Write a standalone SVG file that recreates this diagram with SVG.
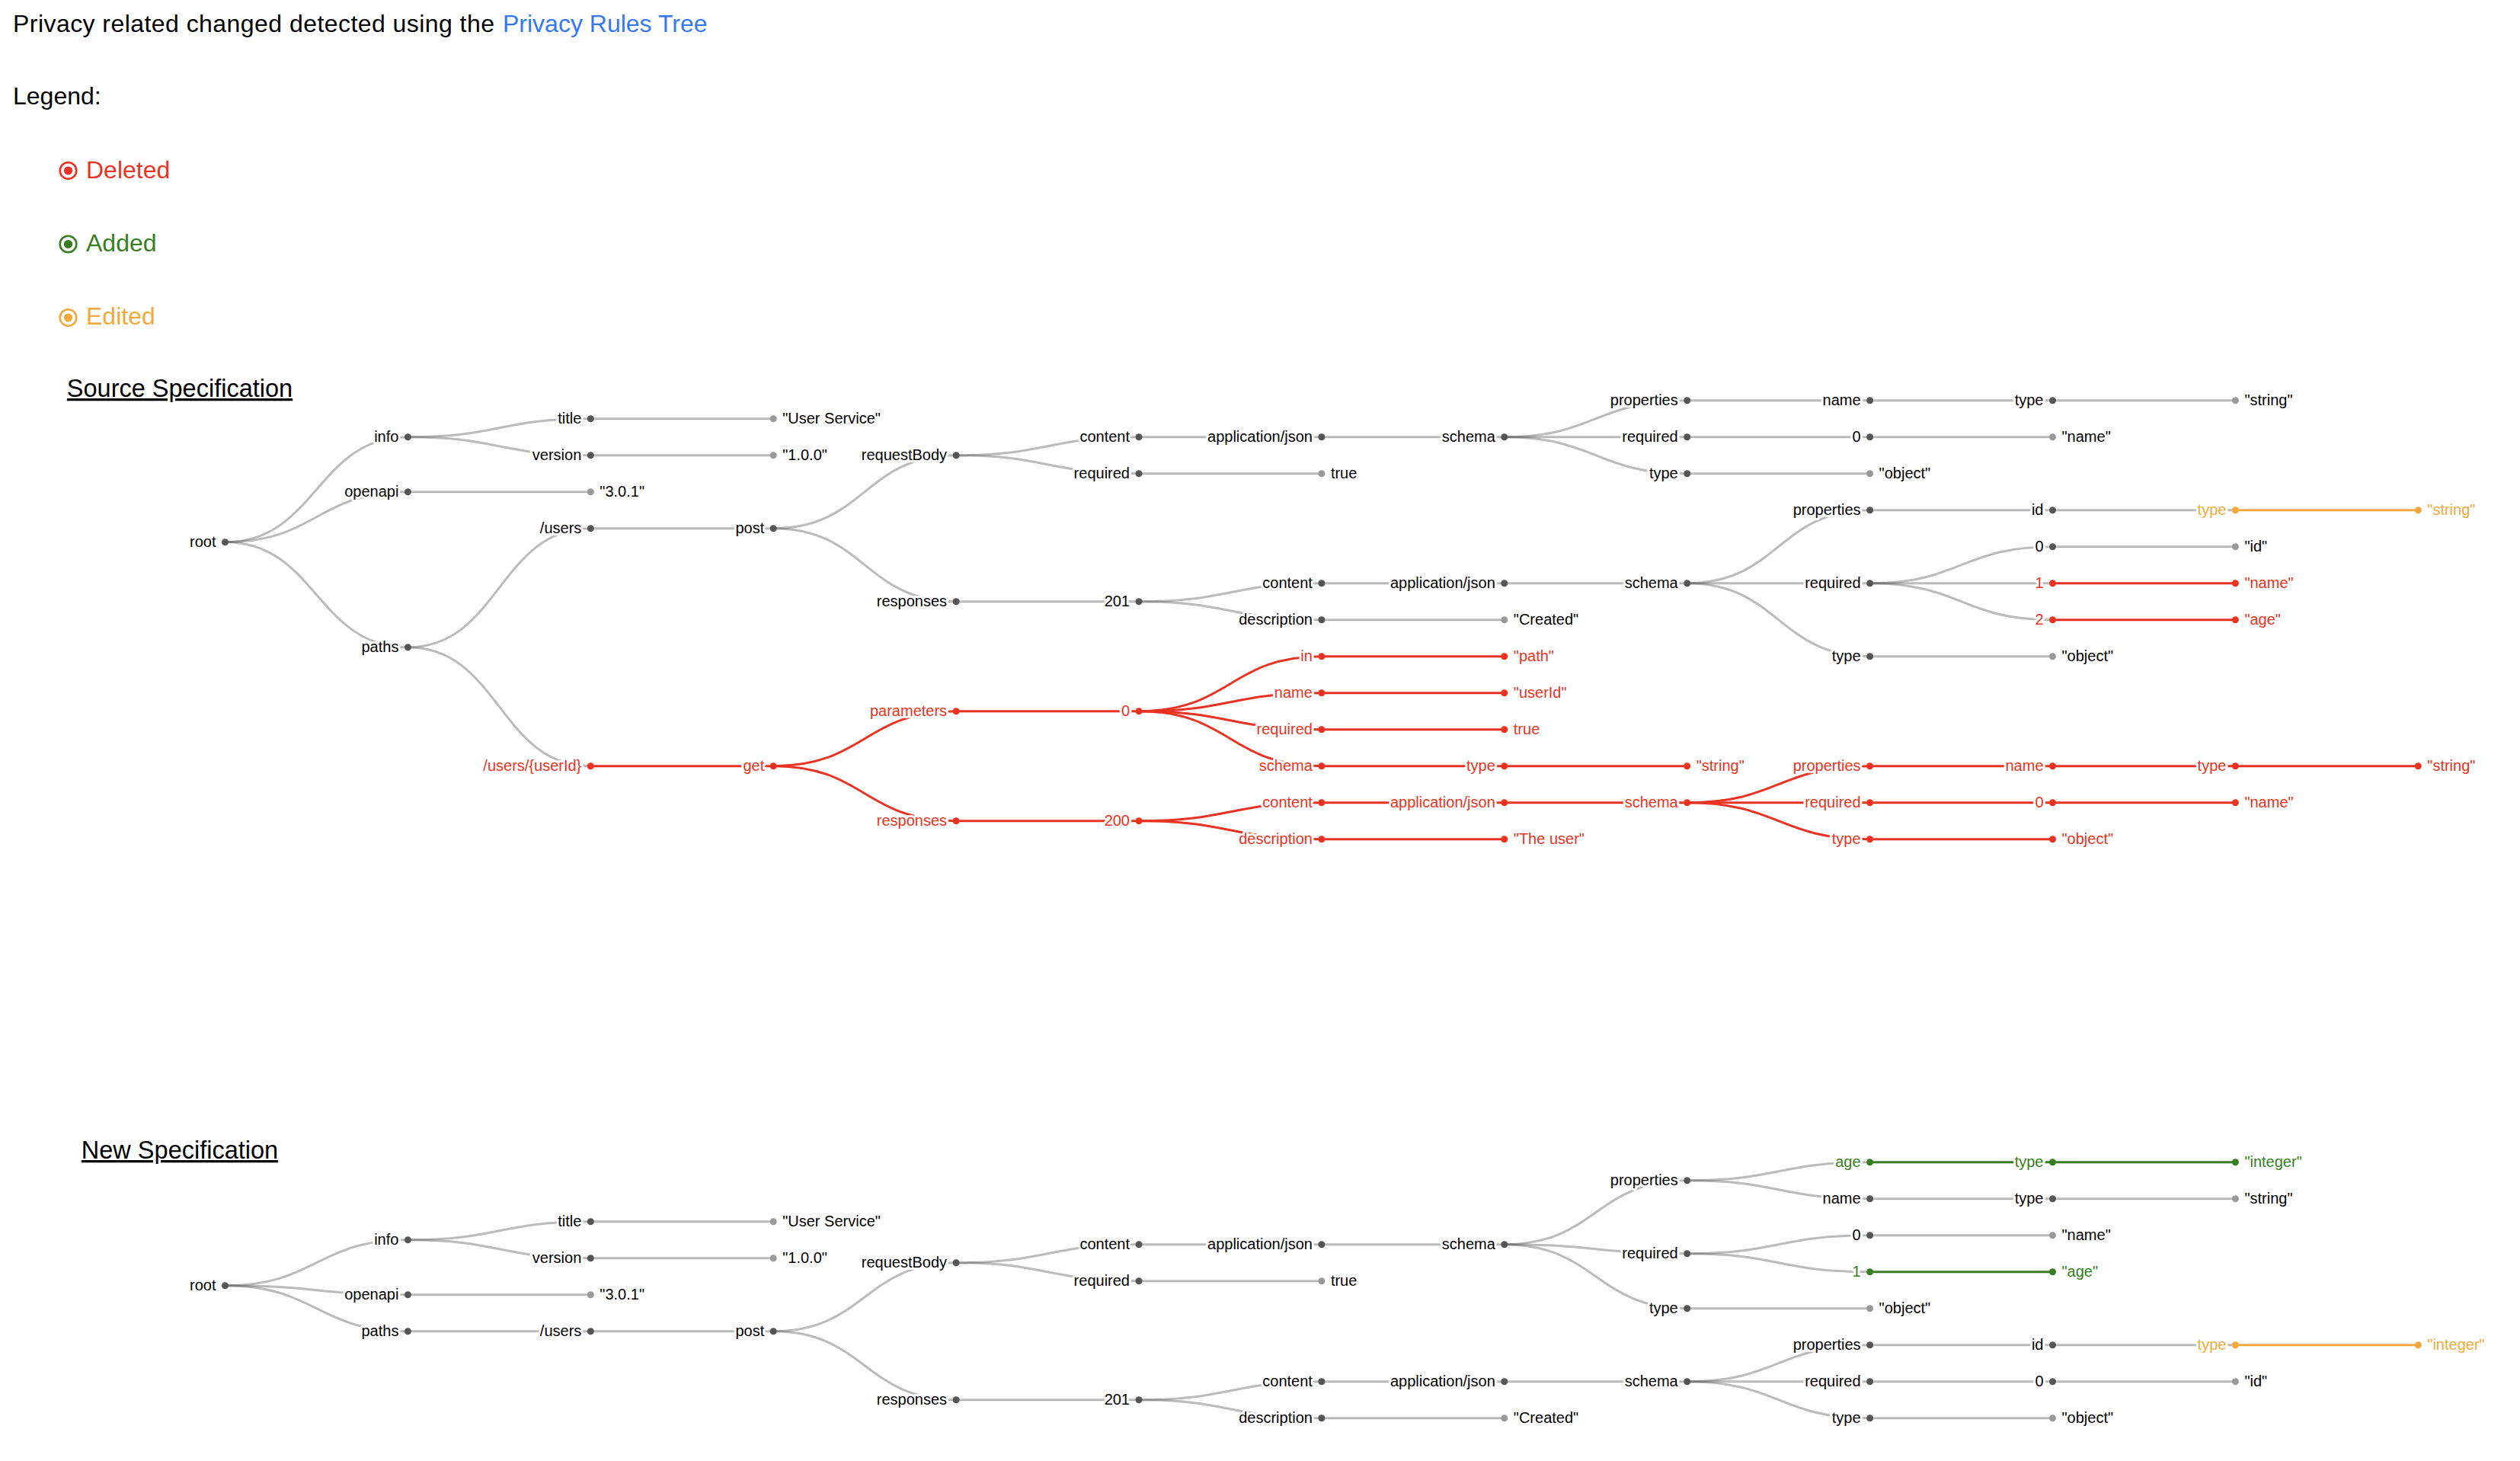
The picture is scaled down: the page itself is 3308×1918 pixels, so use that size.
<svg xmlns="http://www.w3.org/2000/svg" width="3308" height="1918" viewBox="0 0 3308 1918">
<style>
.hd{font-family:"Liberation Sans",Arial,sans-serif;font-size:32px;fill:#000}
.ttl{font-family:"Liberation Sans",Arial,sans-serif;font-size:32.5px;fill:#000;text-anchor:middle;text-decoration:underline}
.lk{fill:none;stroke:#555;stroke-opacity:0.4;stroke-width:3}
.lk.r{stroke:#ea3323;stroke-opacity:1}
.lk.g{stroke:#377d22;stroke-opacity:1}
.lk.o{stroke:#f2a93b;stroke-opacity:1}
.n circle{fill:#555}
.n.l circle{fill:#999}
.n text{font-family:"Liberation Sans",Arial,sans-serif;font-size:20px;fill:#000;stroke:#fff;stroke-width:6;stroke-linejoin:round;paint-order:stroke;text-anchor:end}
.n.l text{text-anchor:start}
.n.r circle{fill:#ea3323}
.n.r text{fill:#ea3323}
.n.g circle{fill:#377d22}
.n.g text{fill:#377d22}
.n.o circle{fill:#f2a93b}
.n.o text{fill:#f2a93b}
</style>

<g id="header">
<text class="hd" x="17" y="42" font-size="33" textLength="632" lengthAdjust="spacing">Privacy related changed detected using the</text>
<text class="hd" x="660" y="42" font-size="33" style="fill:#3478f6">Privacy Rules Tree</text>
<text class="hd" x="17" y="137">Legend:</text>
</g>

<g id="legend">
<g id="legend-deleted">
<circle cx="89.5" cy="224" r="10.8" fill="none" stroke="#ea3323" stroke-width="2.6"/>
<circle cx="89.5" cy="224" r="5.6" fill="#ea3323"/>
<text class="hd" x="113" y="234" style="fill:#ea3323">Deleted</text>
</g>
<g id="legend-added">
<circle cx="89.5" cy="320.5" r="10.8" fill="none" stroke="#377d22" stroke-width="2.6"/>
<circle cx="89.5" cy="320.5" r="5.6" fill="#377d22"/>
<text class="hd" x="113" y="330" style="fill:#377d22">Added</text>
</g>
<g id="legend-edited">
<circle cx="89.5" cy="417" r="10.8" fill="none" stroke="#f2a93b" stroke-width="2.6"/>
<circle cx="89.5" cy="417" r="5.6" fill="#f2a93b"/>
<text class="hd" x="113" y="426" style="fill:#f2a93b">Edited</text>
</g>
</g>

<text id="source-title" class="ttl" x="236" y="521">Source Specification</text>
<text id="new-title" class="ttl" x="236" y="1521">New Specification</text>

<g id="source-tree" transform="translate(295.5,525.7)">
<g id="source-links">
<path class="lk" d="M0,186C119.95,186 119.95,48 239.9,48"/>
<path class="lk" d="M0,186C119.95,186 119.95,120 239.9,120"/>
<path class="lk" d="M0,186C119.95,186 119.95,324 239.9,324"/>
<path class="lk" d="M239.9,48C359.85,48 359.85,24 479.8,24"/>
<path class="lk" d="M239.9,48C359.85,48 359.85,72 479.8,72"/>
<path class="lk" d="M479.8,24H719.7"/>
<path class="lk" d="M479.8,72H719.7"/>
<path class="lk" d="M239.9,120H479.8"/>
<path class="lk" d="M239.9,324C359.85,324 359.85,168 479.8,168"/>
<path class="lk" d="M239.9,324C359.85,324 359.85,480 479.8,480"/>
<path class="lk" d="M479.8,168H719.7"/>
<path class="lk" d="M719.7,168C839.65,168 839.65,72 959.6,72"/>
<path class="lk" d="M719.7,168C839.65,168 839.65,264 959.6,264"/>
<path class="lk" d="M959.6,72C1079.55,72 1079.55,48 1199.5,48"/>
<path class="lk" d="M959.6,72C1079.55,72 1079.55,96 1199.5,96"/>
<path class="lk" d="M1199.5,48H1439.4"/>
<path class="lk" d="M1439.4,48H1679.3"/>
<path class="lk" d="M1679.3,48C1799.25,48 1799.25,0 1919.2,0"/>
<path class="lk" d="M1679.3,48H1919.2"/>
<path class="lk" d="M1679.3,48C1799.25,48 1799.25,96 1919.2,96"/>
<path class="lk" d="M1919.2,0H2159.1"/>
<path class="lk" d="M2159.1,0H2399"/>
<path class="lk" d="M2399,0H2638.9"/>
<path class="lk" d="M1919.2,48H2159.1"/>
<path class="lk" d="M2159.1,48H2399"/>
<path class="lk" d="M1919.2,96H2159.1"/>
<path class="lk" d="M1199.5,96H1439.4"/>
<path class="lk" d="M959.6,264H1199.5"/>
<path class="lk" d="M1199.5,264C1319.45,264 1319.45,240 1439.4,240"/>
<path class="lk" d="M1199.5,264C1319.45,264 1319.45,288 1439.4,288"/>
<path class="lk" d="M1439.4,240H1679.3"/>
<path class="lk" d="M1679.3,240H1919.2"/>
<path class="lk" d="M1919.2,240C2039.15,240 2039.15,144 2159.1,144"/>
<path class="lk" d="M1919.2,240H2159.1"/>
<path class="lk" d="M1919.2,240C2039.15,240 2039.15,336 2159.1,336"/>
<path class="lk" d="M2159.1,144H2399"/>
<path class="lk" d="M2399,144H2638.9"/>
<path class="lk o" d="M2638.9,144H2878.8"/>
<path class="lk" d="M2159.1,240C2279.05,240 2279.05,192 2399,192"/>
<path class="lk" d="M2159.1,240H2399"/>
<path class="lk" d="M2159.1,240C2279.05,240 2279.05,288 2399,288"/>
<path class="lk" d="M2399,192H2638.9"/>
<path class="lk r" d="M2399,240H2638.9"/>
<path class="lk r" d="M2399,288H2638.9"/>
<path class="lk" d="M2159.1,336H2399"/>
<path class="lk" d="M1439.4,288H1679.3"/>
<path class="lk r" d="M479.8,480H719.7"/>
<path class="lk r" d="M719.7,480C839.65,480 839.65,408 959.6,408"/>
<path class="lk r" d="M719.7,480C839.65,480 839.65,552 959.6,552"/>
<path class="lk r" d="M959.6,408H1199.5"/>
<path class="lk r" d="M1199.5,408C1319.45,408 1319.45,336 1439.4,336"/>
<path class="lk r" d="M1199.5,408C1319.45,408 1319.45,384 1439.4,384"/>
<path class="lk r" d="M1199.5,408C1319.45,408 1319.45,432 1439.4,432"/>
<path class="lk r" d="M1199.5,408C1319.45,408 1319.45,480 1439.4,480"/>
<path class="lk r" d="M1439.4,336H1679.3"/>
<path class="lk r" d="M1439.4,384H1679.3"/>
<path class="lk r" d="M1439.4,432H1679.3"/>
<path class="lk r" d="M1439.4,480H1679.3"/>
<path class="lk r" d="M1679.3,480H1919.2"/>
<path class="lk r" d="M959.6,552H1199.5"/>
<path class="lk r" d="M1199.5,552C1319.45,552 1319.45,528 1439.4,528"/>
<path class="lk r" d="M1199.5,552C1319.45,552 1319.45,576 1439.4,576"/>
<path class="lk r" d="M1439.4,528H1679.3"/>
<path class="lk r" d="M1679.3,528H1919.2"/>
<path class="lk r" d="M1919.2,528C2039.15,528 2039.15,480 2159.1,480"/>
<path class="lk r" d="M1919.2,528H2159.1"/>
<path class="lk r" d="M1919.2,528C2039.15,528 2039.15,576 2159.1,576"/>
<path class="lk r" d="M2159.1,480H2399"/>
<path class="lk r" d="M2399,480H2638.9"/>
<path class="lk r" d="M2638.9,480H2878.8"/>
<path class="lk r" d="M2159.1,528H2399"/>
<path class="lk r" d="M2399,528H2638.9"/>
<path class="lk r" d="M2159.1,576H2399"/>
<path class="lk r" d="M1439.4,576H1679.3"/>
</g>
<g id="source-nodes">
<g id="s0" class="n" transform="translate(0,186)"><circle r="4.5"/><text x="-12" y="6.2">root</text></g>
<g id="s1" class="n" transform="translate(239.9,48)"><circle r="4.5"/><text x="-12" y="6.2">info</text></g>
<g id="s2" class="n" transform="translate(479.8,24)"><circle r="4.5"/><text x="-12" y="6.2">title</text></g>
<g id="s3" class="n l" transform="translate(719.7,24)"><circle r="4.5"/><text x="12" y="6.2">"User Service"</text></g>
<g id="s4" class="n" transform="translate(479.8,72)"><circle r="4.5"/><text x="-12" y="6.2">version</text></g>
<g id="s5" class="n l" transform="translate(719.7,72)"><circle r="4.5"/><text x="12" y="6.2">"1.0.0"</text></g>
<g id="s6" class="n" transform="translate(239.9,120)"><circle r="4.5"/><text x="-12" y="6.2">openapi</text></g>
<g id="s7" class="n l" transform="translate(479.8,120)"><circle r="4.5"/><text x="12" y="6.2">"3.0.1"</text></g>
<g id="s8" class="n" transform="translate(239.9,324)"><circle r="4.5"/><text x="-12" y="6.2">paths</text></g>
<g id="s9" class="n" transform="translate(479.8,168)"><circle r="4.5"/><text x="-12" y="6.2">/users</text></g>
<g id="s10" class="n" transform="translate(719.7,168)"><circle r="4.5"/><text x="-12" y="6.2">post</text></g>
<g id="s11" class="n" transform="translate(959.6,72)"><circle r="4.5"/><text x="-12" y="6.2">requestBody</text></g>
<g id="s12" class="n" transform="translate(1199.5,48)"><circle r="4.5"/><text x="-12" y="6.2">content</text></g>
<g id="s13" class="n" transform="translate(1439.4,48)"><circle r="4.5"/><text x="-12" y="6.2">application/json</text></g>
<g id="s14" class="n" transform="translate(1679.3,48)"><circle r="4.5"/><text x="-12" y="6.2">schema</text></g>
<g id="s15" class="n" transform="translate(1919.2,0)"><circle r="4.5"/><text x="-12" y="6.2">properties</text></g>
<g id="s16" class="n" transform="translate(2159.1,0)"><circle r="4.5"/><text x="-12" y="6.2">name</text></g>
<g id="s17" class="n" transform="translate(2399,0)"><circle r="4.5"/><text x="-12" y="6.2">type</text></g>
<g id="s18" class="n l" transform="translate(2638.9,0)"><circle r="4.5"/><text x="12" y="6.2">"string"</text></g>
<g id="s19" class="n" transform="translate(1919.2,48)"><circle r="4.5"/><text x="-12" y="6.2">required</text></g>
<g id="s20" class="n" transform="translate(2159.1,48)"><circle r="4.5"/><text x="-12" y="6.2">0</text></g>
<g id="s21" class="n l" transform="translate(2399,48)"><circle r="4.5"/><text x="12" y="6.2">"name"</text></g>
<g id="s22" class="n" transform="translate(1919.2,96)"><circle r="4.5"/><text x="-12" y="6.2">type</text></g>
<g id="s23" class="n l" transform="translate(2159.1,96)"><circle r="4.5"/><text x="12" y="6.2">"object"</text></g>
<g id="s24" class="n" transform="translate(1199.5,96)"><circle r="4.5"/><text x="-12" y="6.2">required</text></g>
<g id="s25" class="n l" transform="translate(1439.4,96)"><circle r="4.5"/><text x="12" y="6.2">true</text></g>
<g id="s26" class="n" transform="translate(959.6,264)"><circle r="4.5"/><text x="-12" y="6.2">responses</text></g>
<g id="s27" class="n" transform="translate(1199.5,264)"><circle r="4.5"/><text x="-12" y="6.2">201</text></g>
<g id="s28" class="n" transform="translate(1439.4,240)"><circle r="4.5"/><text x="-12" y="6.2">content</text></g>
<g id="s29" class="n" transform="translate(1679.3,240)"><circle r="4.5"/><text x="-12" y="6.2">application/json</text></g>
<g id="s30" class="n" transform="translate(1919.2,240)"><circle r="4.5"/><text x="-12" y="6.2">schema</text></g>
<g id="s31" class="n" transform="translate(2159.1,144)"><circle r="4.5"/><text x="-12" y="6.2">properties</text></g>
<g id="s32" class="n" transform="translate(2399,144)"><circle r="4.5"/><text x="-12" y="6.2">id</text></g>
<g id="s33" class="n o" transform="translate(2638.9,144)"><circle r="4.5"/><text x="-12" y="6.2">type</text></g>
<g id="s34" class="n l o" transform="translate(2878.8,144)"><circle r="4.5"/><text x="12" y="6.2">"string"</text></g>
<g id="s35" class="n" transform="translate(2159.1,240)"><circle r="4.5"/><text x="-12" y="6.2">required</text></g>
<g id="s36" class="n" transform="translate(2399,192)"><circle r="4.5"/><text x="-12" y="6.2">0</text></g>
<g id="s37" class="n l" transform="translate(2638.9,192)"><circle r="4.5"/><text x="12" y="6.2">"id"</text></g>
<g id="s38" class="n r" transform="translate(2399,240)"><circle r="4.5"/><text x="-12" y="6.2">1</text></g>
<g id="s39" class="n l r" transform="translate(2638.9,240)"><circle r="4.5"/><text x="12" y="6.2">"name"</text></g>
<g id="s40" class="n r" transform="translate(2399,288)"><circle r="4.5"/><text x="-12" y="6.2">2</text></g>
<g id="s41" class="n l r" transform="translate(2638.9,288)"><circle r="4.5"/><text x="12" y="6.2">"age"</text></g>
<g id="s42" class="n" transform="translate(2159.1,336)"><circle r="4.5"/><text x="-12" y="6.2">type</text></g>
<g id="s43" class="n l" transform="translate(2399,336)"><circle r="4.5"/><text x="12" y="6.2">"object"</text></g>
<g id="s44" class="n" transform="translate(1439.4,288)"><circle r="4.5"/><text x="-12" y="6.2">description</text></g>
<g id="s45" class="n l" transform="translate(1679.3,288)"><circle r="4.5"/><text x="12" y="6.2">"Created"</text></g>
<g id="s46" class="n r" transform="translate(479.8,480)"><circle r="4.5"/><text x="-12" y="6.2">/users/{userId}</text></g>
<g id="s47" class="n r" transform="translate(719.7,480)"><circle r="4.5"/><text x="-12" y="6.2">get</text></g>
<g id="s48" class="n r" transform="translate(959.6,408)"><circle r="4.5"/><text x="-12" y="6.2">parameters</text></g>
<g id="s49" class="n r" transform="translate(1199.5,408)"><circle r="4.5"/><text x="-12" y="6.2">0</text></g>
<g id="s50" class="n r" transform="translate(1439.4,336)"><circle r="4.5"/><text x="-12" y="6.2">in</text></g>
<g id="s51" class="n l r" transform="translate(1679.3,336)"><circle r="4.5"/><text x="12" y="6.2">"path"</text></g>
<g id="s52" class="n r" transform="translate(1439.4,384)"><circle r="4.5"/><text x="-12" y="6.2">name</text></g>
<g id="s53" class="n l r" transform="translate(1679.3,384)"><circle r="4.5"/><text x="12" y="6.2">"userId"</text></g>
<g id="s54" class="n r" transform="translate(1439.4,432)"><circle r="4.5"/><text x="-12" y="6.2">required</text></g>
<g id="s55" class="n l r" transform="translate(1679.3,432)"><circle r="4.5"/><text x="12" y="6.2">true</text></g>
<g id="s56" class="n r" transform="translate(1439.4,480)"><circle r="4.5"/><text x="-12" y="6.2">schema</text></g>
<g id="s57" class="n r" transform="translate(1679.3,480)"><circle r="4.5"/><text x="-12" y="6.2">type</text></g>
<g id="s58" class="n l r" transform="translate(1919.2,480)"><circle r="4.5"/><text x="12" y="6.2">"string"</text></g>
<g id="s59" class="n r" transform="translate(959.6,552)"><circle r="4.5"/><text x="-12" y="6.2">responses</text></g>
<g id="s60" class="n r" transform="translate(1199.5,552)"><circle r="4.5"/><text x="-12" y="6.2">200</text></g>
<g id="s61" class="n r" transform="translate(1439.4,528)"><circle r="4.5"/><text x="-12" y="6.2">content</text></g>
<g id="s62" class="n r" transform="translate(1679.3,528)"><circle r="4.5"/><text x="-12" y="6.2">application/json</text></g>
<g id="s63" class="n r" transform="translate(1919.2,528)"><circle r="4.5"/><text x="-12" y="6.2">schema</text></g>
<g id="s64" class="n r" transform="translate(2159.1,480)"><circle r="4.5"/><text x="-12" y="6.2">properties</text></g>
<g id="s65" class="n r" transform="translate(2399,480)"><circle r="4.5"/><text x="-12" y="6.2">name</text></g>
<g id="s66" class="n r" transform="translate(2638.9,480)"><circle r="4.5"/><text x="-12" y="6.2">type</text></g>
<g id="s67" class="n l r" transform="translate(2878.8,480)"><circle r="4.5"/><text x="12" y="6.2">"string"</text></g>
<g id="s68" class="n r" transform="translate(2159.1,528)"><circle r="4.5"/><text x="-12" y="6.2">required</text></g>
<g id="s69" class="n r" transform="translate(2399,528)"><circle r="4.5"/><text x="-12" y="6.2">0</text></g>
<g id="s70" class="n l r" transform="translate(2638.9,528)"><circle r="4.5"/><text x="12" y="6.2">"name"</text></g>
<g id="s71" class="n r" transform="translate(2159.1,576)"><circle r="4.5"/><text x="-12" y="6.2">type</text></g>
<g id="s72" class="n l r" transform="translate(2399,576)"><circle r="4.5"/><text x="12" y="6.2">"object"</text></g>
<g id="s73" class="n r" transform="translate(1439.4,576)"><circle r="4.5"/><text x="-12" y="6.2">description</text></g>
<g id="s74" class="n l r" transform="translate(1679.3,576)"><circle r="4.5"/><text x="12" y="6.2">"The user"</text></g>
</g>
</g>

<g id="new-tree" transform="translate(295.5,1525.7)">
<g id="new-links">
<path class="lk" d="M0,162C119.95,162 119.95,102 239.9,102"/>
<path class="lk" d="M0,162C119.95,162 119.95,174 239.9,174"/>
<path class="lk" d="M0,162C119.95,162 119.95,222 239.9,222"/>
<path class="lk" d="M239.9,102C359.85,102 359.85,78 479.8,78"/>
<path class="lk" d="M239.9,102C359.85,102 359.85,126 479.8,126"/>
<path class="lk" d="M479.8,78H719.7"/>
<path class="lk" d="M479.8,126H719.7"/>
<path class="lk" d="M239.9,174H479.8"/>
<path class="lk" d="M239.9,222H479.8"/>
<path class="lk" d="M479.8,222H719.7"/>
<path class="lk" d="M719.7,222C839.65,222 839.65,132 959.6,132"/>
<path class="lk" d="M719.7,222C839.65,222 839.65,312 959.6,312"/>
<path class="lk" d="M959.6,132C1079.55,132 1079.55,108 1199.5,108"/>
<path class="lk" d="M959.6,132C1079.55,132 1079.55,156 1199.5,156"/>
<path class="lk" d="M1199.5,108H1439.4"/>
<path class="lk" d="M1439.4,108H1679.3"/>
<path class="lk" d="M1679.3,108C1799.25,108 1799.25,24 1919.2,24"/>
<path class="lk" d="M1679.3,108C1799.25,108 1799.25,120 1919.2,120"/>
<path class="lk" d="M1679.3,108C1799.25,108 1799.25,192 1919.2,192"/>
<path class="lk" d="M1919.2,24C2039.15,24 2039.15,0 2159.1,0"/>
<path class="lk" d="M1919.2,24C2039.15,24 2039.15,48 2159.1,48"/>
<path class="lk g" d="M2159.1,0H2399"/>
<path class="lk g" d="M2399,0H2638.9"/>
<path class="lk" d="M2159.1,48H2399"/>
<path class="lk" d="M2399,48H2638.9"/>
<path class="lk" d="M1919.2,120C2039.15,120 2039.15,96 2159.1,96"/>
<path class="lk" d="M1919.2,120C2039.15,120 2039.15,144 2159.1,144"/>
<path class="lk" d="M2159.1,96H2399"/>
<path class="lk g" d="M2159.1,144H2399"/>
<path class="lk" d="M1919.2,192H2159.1"/>
<path class="lk" d="M1199.5,156H1439.4"/>
<path class="lk" d="M959.6,312H1199.5"/>
<path class="lk" d="M1199.5,312C1319.45,312 1319.45,288 1439.4,288"/>
<path class="lk" d="M1199.5,312C1319.45,312 1319.45,336 1439.4,336"/>
<path class="lk" d="M1439.4,288H1679.3"/>
<path class="lk" d="M1679.3,288H1919.2"/>
<path class="lk" d="M1919.2,288C2039.15,288 2039.15,240 2159.1,240"/>
<path class="lk" d="M1919.2,288H2159.1"/>
<path class="lk" d="M1919.2,288C2039.15,288 2039.15,336 2159.1,336"/>
<path class="lk" d="M2159.1,240H2399"/>
<path class="lk" d="M2399,240H2638.9"/>
<path class="lk o" d="M2638.9,240H2878.8"/>
<path class="lk" d="M2159.1,288H2399"/>
<path class="lk" d="M2399,288H2638.9"/>
<path class="lk" d="M2159.1,336H2399"/>
<path class="lk" d="M1439.4,336H1679.3"/>
</g>
<g id="new-nodes">
<g id="n0" class="n" transform="translate(0,162)"><circle r="4.5"/><text x="-12" y="6.2">root</text></g>
<g id="n1" class="n" transform="translate(239.9,102)"><circle r="4.5"/><text x="-12" y="6.2">info</text></g>
<g id="n2" class="n" transform="translate(479.8,78)"><circle r="4.5"/><text x="-12" y="6.2">title</text></g>
<g id="n3" class="n l" transform="translate(719.7,78)"><circle r="4.5"/><text x="12" y="6.2">"User Service"</text></g>
<g id="n4" class="n" transform="translate(479.8,126)"><circle r="4.5"/><text x="-12" y="6.2">version</text></g>
<g id="n5" class="n l" transform="translate(719.7,126)"><circle r="4.5"/><text x="12" y="6.2">"1.0.0"</text></g>
<g id="n6" class="n" transform="translate(239.9,174)"><circle r="4.5"/><text x="-12" y="6.2">openapi</text></g>
<g id="n7" class="n l" transform="translate(479.8,174)"><circle r="4.5"/><text x="12" y="6.2">"3.0.1"</text></g>
<g id="n8" class="n" transform="translate(239.9,222)"><circle r="4.5"/><text x="-12" y="6.2">paths</text></g>
<g id="n9" class="n" transform="translate(479.8,222)"><circle r="4.5"/><text x="-12" y="6.2">/users</text></g>
<g id="n10" class="n" transform="translate(719.7,222)"><circle r="4.5"/><text x="-12" y="6.2">post</text></g>
<g id="n11" class="n" transform="translate(959.6,132)"><circle r="4.5"/><text x="-12" y="6.2">requestBody</text></g>
<g id="n12" class="n" transform="translate(1199.5,108)"><circle r="4.5"/><text x="-12" y="6.2">content</text></g>
<g id="n13" class="n" transform="translate(1439.4,108)"><circle r="4.5"/><text x="-12" y="6.2">application/json</text></g>
<g id="n14" class="n" transform="translate(1679.3,108)"><circle r="4.5"/><text x="-12" y="6.2">schema</text></g>
<g id="n15" class="n" transform="translate(1919.2,24)"><circle r="4.5"/><text x="-12" y="6.2">properties</text></g>
<g id="n16" class="n g" transform="translate(2159.1,0)"><circle r="4.5"/><text x="-12" y="6.2">age</text></g>
<g id="n17" class="n g" transform="translate(2399,0)"><circle r="4.5"/><text x="-12" y="6.2">type</text></g>
<g id="n18" class="n l g" transform="translate(2638.9,0)"><circle r="4.5"/><text x="12" y="6.2">"integer"</text></g>
<g id="n19" class="n" transform="translate(2159.1,48)"><circle r="4.5"/><text x="-12" y="6.2">name</text></g>
<g id="n20" class="n" transform="translate(2399,48)"><circle r="4.5"/><text x="-12" y="6.2">type</text></g>
<g id="n21" class="n l" transform="translate(2638.9,48)"><circle r="4.5"/><text x="12" y="6.2">"string"</text></g>
<g id="n22" class="n" transform="translate(1919.2,120)"><circle r="4.5"/><text x="-12" y="6.2">required</text></g>
<g id="n23" class="n" transform="translate(2159.1,96)"><circle r="4.5"/><text x="-12" y="6.2">0</text></g>
<g id="n24" class="n l" transform="translate(2399,96)"><circle r="4.5"/><text x="12" y="6.2">"name"</text></g>
<g id="n25" class="n g" transform="translate(2159.1,144)"><circle r="4.5"/><text x="-12" y="6.2">1</text></g>
<g id="n26" class="n l g" transform="translate(2399,144)"><circle r="4.5"/><text x="12" y="6.2">"age"</text></g>
<g id="n27" class="n" transform="translate(1919.2,192)"><circle r="4.5"/><text x="-12" y="6.2">type</text></g>
<g id="n28" class="n l" transform="translate(2159.1,192)"><circle r="4.5"/><text x="12" y="6.2">"object"</text></g>
<g id="n29" class="n" transform="translate(1199.5,156)"><circle r="4.5"/><text x="-12" y="6.2">required</text></g>
<g id="n30" class="n l" transform="translate(1439.4,156)"><circle r="4.5"/><text x="12" y="6.2">true</text></g>
<g id="n31" class="n" transform="translate(959.6,312)"><circle r="4.5"/><text x="-12" y="6.2">responses</text></g>
<g id="n32" class="n" transform="translate(1199.5,312)"><circle r="4.5"/><text x="-12" y="6.2">201</text></g>
<g id="n33" class="n" transform="translate(1439.4,288)"><circle r="4.5"/><text x="-12" y="6.2">content</text></g>
<g id="n34" class="n" transform="translate(1679.3,288)"><circle r="4.5"/><text x="-12" y="6.2">application/json</text></g>
<g id="n35" class="n" transform="translate(1919.2,288)"><circle r="4.5"/><text x="-12" y="6.2">schema</text></g>
<g id="n36" class="n" transform="translate(2159.1,240)"><circle r="4.5"/><text x="-12" y="6.2">properties</text></g>
<g id="n37" class="n" transform="translate(2399,240)"><circle r="4.5"/><text x="-12" y="6.2">id</text></g>
<g id="n38" class="n o" transform="translate(2638.9,240)"><circle r="4.5"/><text x="-12" y="6.2">type</text></g>
<g id="n39" class="n l o" transform="translate(2878.8,240)"><circle r="4.5"/><text x="12" y="6.2">"integer"</text></g>
<g id="n40" class="n" transform="translate(2159.1,288)"><circle r="4.5"/><text x="-12" y="6.2">required</text></g>
<g id="n41" class="n" transform="translate(2399,288)"><circle r="4.5"/><text x="-12" y="6.2">0</text></g>
<g id="n42" class="n l" transform="translate(2638.9,288)"><circle r="4.5"/><text x="12" y="6.2">"id"</text></g>
<g id="n43" class="n" transform="translate(2159.1,336)"><circle r="4.5"/><text x="-12" y="6.2">type</text></g>
<g id="n44" class="n l" transform="translate(2399,336)"><circle r="4.5"/><text x="12" y="6.2">"object"</text></g>
<g id="n45" class="n" transform="translate(1439.4,336)"><circle r="4.5"/><text x="-12" y="6.2">description</text></g>
<g id="n46" class="n l" transform="translate(1679.3,336)"><circle r="4.5"/><text x="12" y="6.2">"Created"</text></g>
</g>
</g>
</svg>
